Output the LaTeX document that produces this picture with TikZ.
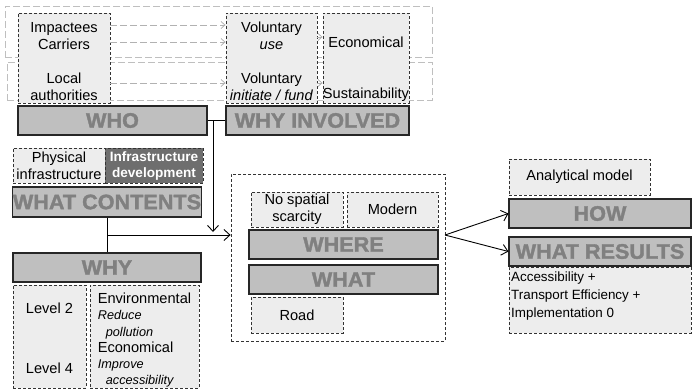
\documentclass[tikz,border=0pt]{standalone}
\usepackage{fontspec}
\setmainfont{Liberation Sans}
\newfontfamily\blackfont[UprightFont={* Bold}, FakeBold=1.6, FakeStretch=1.03]{Liberation Sans}
\usetikzlibrary{arrows.meta,positioning}
\newcommand{\nfont}{\fontsize{14.6}{17}\selectfont}
\newcommand{\bfont}{\fontsize{21}{24}\selectfont\blackfont}
\newcommand{\sit}[1]{{\fontsize{12.7}{16.2}\selectfont\itshape #1}}
\newcommand{\topstrut}{\rule{0pt}{17pt}}

\begin{document}
\begin{tikzpicture}[x=1pt, y=-1pt, >={Straight Barb[length=6pt,width=11pt]}]
    \tikzstyle{lbox} = [draw=black!80, dash pattern=on 3pt off 2pt, line width=0.8pt, fill=black!7, inner sep=0pt, align=center, font=\nfont]
    \tikzstyle{dbox} = [draw=black!80, dash pattern=on 3pt off 2pt, line width=0.8pt, fill=black!57, text=white, inner sep=0pt, align=center, font=\fontsize{13.6}{16}\selectfont\bfseries]
    \tikzstyle{bar} = [draw=black!85, line width=1.1pt, fill=black!25, text=black!50, inner sep=0pt, font=\bfont]
    \tikzstyle{gframe} = [draw=black!25, dash pattern=on 7pt off 3pt, line width=0.8pt, inner sep=0pt]
    \tikzstyle{garrow} = [draw=black!30, dash pattern=on 7pt off 3pt, line width=0.8pt, -{Straight Barb[length=4pt,width=7pt]}]

    \useasboundingbox (0,0) rectangle (692,389);

    % who / why involved
    \node[gframe, minimum width=427pt, minimum height=51pt] (frameA) at (218.5,31.5) {};
    \node[gframe, minimum width=425pt, minimum height=38pt] (frameB) at (219.5,81) {};

    \node[lbox, minimum width=92pt, minimum height=90pt] (actors) at (64,58) {\topstrut Impactees\\Carriers\\[17pt]Local\\authorities};
    \node[lbox, minimum width=91pt, minimum height=90pt] (volun) at (271.5,58) {\topstrut Voluntary\\\textit{use}\\[17pt]Voluntary\\\textit{initiate / fund}};
    \node[lbox, minimum width=86pt, minimum height=90pt] (motive) at (366,58) {\topstrut\\Economical\\[17pt]\strut\\Sustainability};

    \draw[garrow] (actors.east |- 0,25) -- (volun.west |- 0,25);
    \draw[garrow] (actors.east |- 0,42) -- (volun.west |- 0,42);
    \draw[garrow] (actors.east |- 0,83) -- (volun.west |- 0,83);
    \draw[garrow] (volun.east |- 0,37) -- (motive.west |- 0,37);
    \draw[garrow] (volun.east |- 0,83) -- (motive.west |- 0,83);

    \node[bar, minimum width=189pt, minimum height=29pt] (who) at (112.5,120.5) {WHO};
    \node[bar, minimum width=183pt, minimum height=29pt] (whyinv) at (317.5,120.5) {WHY INVOLVED};

    % what contents / why
    \node[lbox, minimum width=92pt, minimum height=35pt] (phys) at (59,165.5) {Physical\\infrastructure};
    \node[dbox, minimum width=98pt, minimum height=35pt] (infra) at (154,165.5) {Infrastructure\\development};
    \node[bar, minimum width=188pt, minimum height=30pt] (wcont) at (107,202) {WHAT CONTENTS};
    \node[bar, minimum width=188pt, minimum height=29pt] (why) at (107,267.5) {WHY};
    \node[lbox, minimum width=73pt, minimum height=103pt] (level) at (49.5,336.5) {\rule{0pt}{14pt}Level 2\\[43pt]Level 4};
    \node[lbox, minimum width=109pt, minimum height=103pt, align=left, font=\fontsize{14.6}{16.2}\selectfont] (goal) at (144.5,336.5)
      {\rule{0pt}{18pt}Environmental\\\sit{Reduce}\\\hspace*{8pt}\sit{pollution}\\Economical\\\sit{Improve}\\\hspace*{8pt}\sit{accessibility}};

    % where / what
    \node[lbox, fill=white, minimum width=214pt, minimum height=167pt] (place) at (338,257.5) {};
    \node[lbox, minimum width=92pt, minimum height=35pt] (scarce) at (297,209.5) {No spatial\\scarcity};
    \node[lbox, minimum width=91pt, minimum height=35pt] (modern) at (392.5,209.5) {Modern};
    \node[bar, minimum width=189pt, minimum height=29pt] (where) at (343.5,244.5) {WHERE};
    \node[bar, minimum width=189pt, minimum height=29pt] (what) at (343.5,279.5) {WHAT};
    \node[lbox, minimum width=92pt, minimum height=36pt] (road) at (297,315) {Road};

    % how / what results
    \node[lbox, minimum width=141pt, minimum height=36pt] (model) at (579.5,177) {Analytical model};
    \node[bar, minimum width=182pt, minimum height=29pt] (how) at (600,213.5) {HOW};
    \node[bar, minimum width=182pt, minimum height=29pt] (wres) at (600,251.5) {WHAT RESULTS};
    \node[lbox, minimum width=182pt, minimum height=66pt] (result) at (600,300) {};
    \node[anchor=north west, align=left, inner sep=0pt, font=\fontsize{13.4}{18}\selectfont] (restext) at (511,271.5)
      {Accessibility +\\Transport Efficiency +\\Implementation 0};

    % connections
    \coordinate (jwho) at (213,120.5);
    \coordinate (jdown) at (213,232);
    \coordinate (jcont) at (107,235);
    \coordinate (jplace) at (445,235);

    \draw[line width=0.9pt] (who.east) -- (whyinv.west);
    \draw[->, line width=0.9pt] (jwho) -- (jdown);
    \draw[line width=0.9pt] (wcont) -- (why);
    \draw[->, line width=0.9pt] (jcont) -- (jcont -| place.west);
    \draw[->, line width=0.9pt] (jplace) -- (how.west);
    \draw[->, line width=0.9pt] (jplace) -- (wres.west);
\end{tikzpicture}
\end{document}
